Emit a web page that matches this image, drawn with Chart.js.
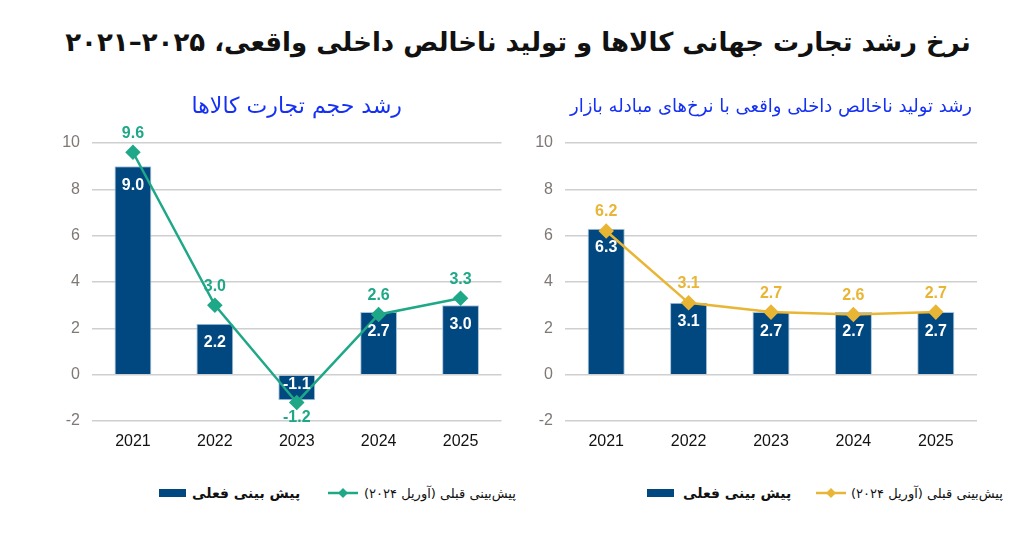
<!DOCTYPE html>
<html>
<head>
<meta charset="utf-8">
<script src="https://cdn.jsdelivr.net/npm/chart.js@4"></script>
<style>
  html, body { margin: 0; padding: 0; background: #fff; }
  body { width: 1011px; height: 536px; position: relative; overflow: hidden; font-family: "DejaVu Sans", sans-serif; }
  #main-title { position: absolute; left: 0; width: 1036px; top: 27px; text-align: center; font-size: 26px; font-weight: bold; color: #111; direction: rtl; }
  canvas { position: absolute; }
  .legend { position: absolute; top: 482px; height: 22px; display: flex; align-items: center; font-size: 13px; color: #111; }
  .legend .txt { direction: rtl; white-space: nowrap; }
  .legend .bold { font-weight: bold; font-size: 14px; }
  .legend svg { display: block; }
</style>
</head>
<body>
<div id="main-title">نرخ رشد تجارت جهانی کالاها و تولید ناخالص داخلی واقعی، ۲۰۲۵–۲۰۲۱</div>

<canvas id="tradeChart" style="left:0px; top:85px;" width="510" height="380"></canvas>
<canvas id="gdpChart" style="left:510px; top:85px;" width="501" height="380"></canvas>

<div class="legend" style="left:159px;">
  <svg width="27" height="8"><rect width="27" height="8" fill="#00487f"/></svg>
  <span class="txt bold" style="margin-left:6px;">پیش بینی فعلی</span>
</div>
<div class="legend" style="left:328px;">
  <svg width="30" height="12"><line x1="0" y1="6" x2="30" y2="6" stroke="#1fa887" stroke-width="2.5"/><polygon points="15,1 20,6 15,11 10,6" fill="#1fa887"/></svg>
  <span class="txt" style="margin-left:6px;">پیش‌بینی قبلی (آوریل ۲۰۲۴)</span>
</div>
<div class="legend" style="left:647px;">
  <svg width="27" height="8"><rect width="27" height="8" fill="#00487f"/></svg>
  <span class="txt bold" style="margin-left:9px;">پیش بینی فعلی</span>
</div>
<div class="legend" style="left:816px;">
  <svg width="30" height="12"><line x1="0" y1="6" x2="30" y2="6" stroke="#e9b535" stroke-width="2.5"/><polygon points="15,1 20,6 15,11 10,6" fill="#e9b535"/></svg>
  <span class="txt" style="margin-left:5px;">پیش‌بینی قبلی (آوریل ۲۰۲۴)</span>
</div>

<script>
// Categories
const years = ['2021', '2022', '2023', '2024', '2025'];

// Goods trade volume growth
const tradeCurrent = [9.0, 2.2, -1.1, 2.7, 3.0];
const tradePrevious = [9.6, 3.0, -1.2, 2.6, 3.3];

// Real GDP growth at market exchange rates
const gdpCurrent = [6.3, 3.1, 2.7, 2.7, 2.7];
const gdpPrevious = [6.2, 3.1, 2.7, 2.6, 2.7];

// Y axis range
const yMin = -2;
const yMax = 10;
const yStep = 2;

const barColor = '#00487f';
const gridColor = '#cfcfcf';

// draws the value labels on bars and line points
const valueLabels = {
  id: 'valueLabels',
  afterDatasetsDraw(chart) {
    const ctx = chart.ctx;
    chart.data.datasets.forEach((ds, i) => {
      const meta = chart.getDatasetMeta(i);
      meta.data.forEach((el, j) => {
        const v = ds.data[j];
        let y;
        ctx.save();
        if (ds.type === 'line') {
          y = v < 0 ? el.y + 15 : el.y - 19;
          ctx.fillStyle = ds.borderColor;
        } else {
          y = v < 0 ? el.base + 9 : el.y + 19;
          ctx.fillStyle = '#ffffff';
        }
        ctx.font = 'bold 16px "Liberation Sans", Arial, sans-serif';
        ctx.textAlign = 'center';
        ctx.textBaseline = 'middle';
        ctx.fillText(v.toFixed(1), el.x, y);
        ctx.restore();
      });
    });
  }
};

function makeChart(id, title, titleSize, current, previous, lineColor, pad) {
  const ctx = document.getElementById(id).getContext('2d');
  // keep the plot top at the same height whatever the title size
  const lh = titleSize * 1.2;
  const titleTop = 22 - lh / 2;
  const titleBottom = 58 - lh - titleTop;
  return new Chart(ctx, {
    type: 'bar',
    data: {
      labels: years,
      datasets: [
        {
          type: 'bar',
          label: 'پیش بینی فعلی',
          data: current,
          backgroundColor: barColor,
          borderColor: '#a9c4dd',
          borderWidth: 1,
          barPercentage: 0.45,
          categoryPercentage: 1,
          order: 1
        },
        {
          type: 'line',
          label: 'پیش‌بینی قبلی (آوریل ۲۰۲۴)',
          data: previous,
          borderColor: lineColor,
          backgroundColor: lineColor,
          borderWidth: 2.5,
          pointStyle: 'rectRot',
          pointRadius: 6,
          pointHoverRadius: 6,
          tension: 0,
          order: 0
        }
      ]
    },
    options: {
      responsive: false,
      animation: false,
      layout: { padding: pad },
      plugins: {
        legend: { display: false },
        tooltip: { enabled: false },
        title: {
          display: true,
          text: title,
          fullSize: false,
          color: '#1530f5',
          font: { family: '"DejaVu Sans"', size: titleSize, weight: 'normal' },
          padding: { top: titleTop, bottom: titleBottom }
        }
      },
      scales: {
        x: {
          grid: { display: false },
          border: { display: false },
          ticks: { color: '#111', padding: 3, font: { family: '"Liberation Sans"', size: 16 } },
          afterFit(scale) { scale.height = 38; }
        },
        y: {
          min: yMin,
          max: yMax,
          ticks: { stepSize: yStep, color: '#7f7875', padding: 12, font: { family: '"Liberation Sans"', size: 16 } },
          grid: { color: gridColor, lineWidth: 1.5, drawTicks: false },
          border: { display: false },
          afterFit(scale) { scale.width = 40; }
        }
      }
    },
    plugins: [valueLabels]
  });
}

makeChart('tradeChart', 'رشد حجم تجارت کالاها', 22, tradeCurrent, tradePrevious, '#1fa887',
  { left: 52, right: 6, top: 0, bottom: 6 });
makeChart('gdpChart', 'رشد تولید ناخالص داخلی واقعی با نرخ‌های مبادله بازار', 18, gdpCurrent, gdpPrevious, '#e9b535',
  { left: 15, right: 34, top: 0, bottom: 6 });
</script>
</body>
</html>
